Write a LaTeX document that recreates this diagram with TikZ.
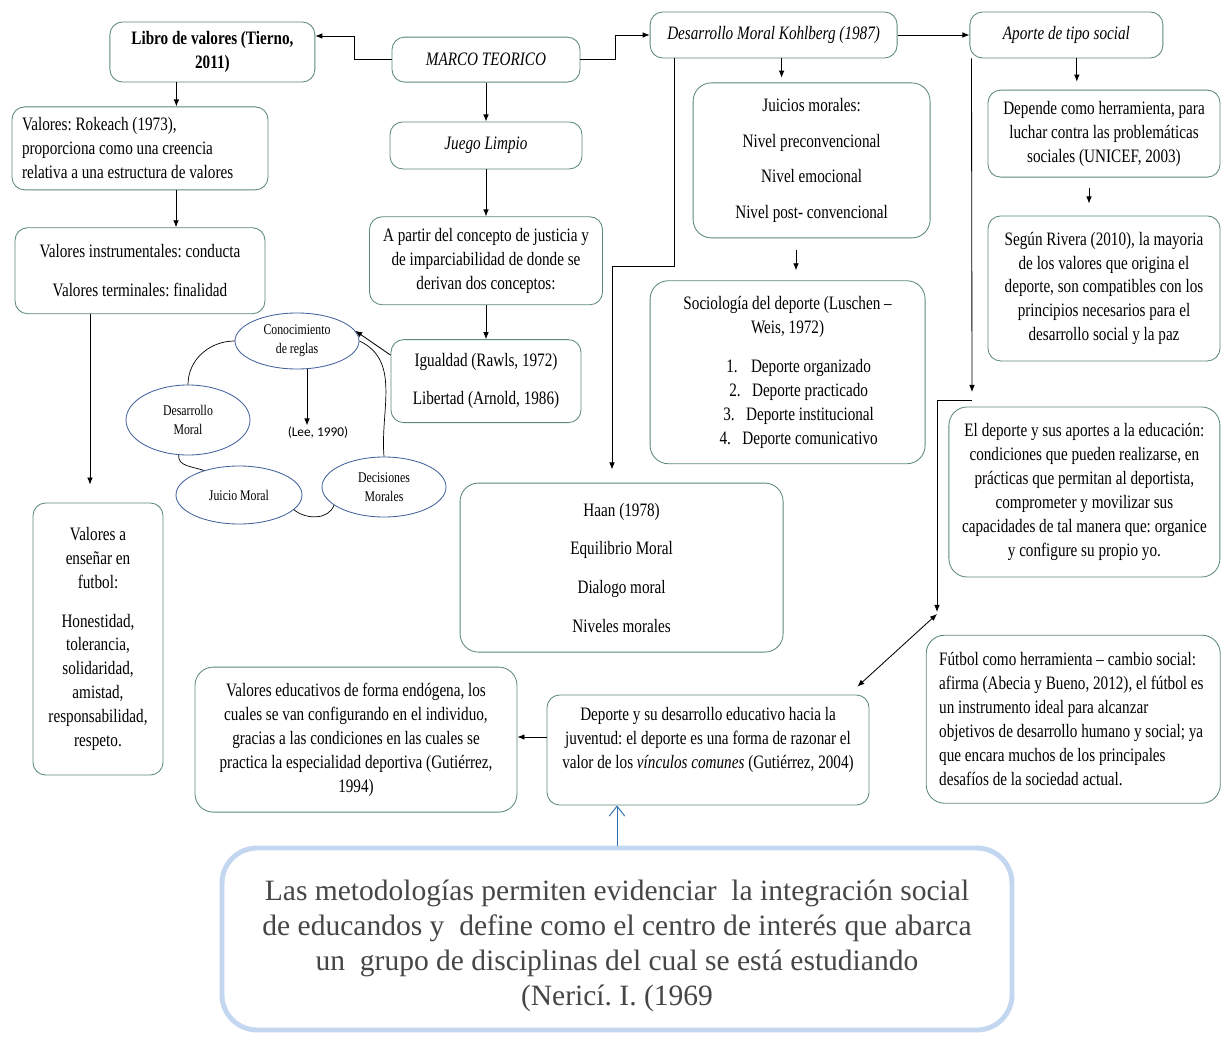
\documentclass[tikz,border=0pt]{standalone}
\usepackage{fontspec}
\setmainfont{Liberation Serif}[FakeStretch=0.8]
\newfontfamily\metfont{Liberation Serif}
\newfontfamily\leefont{Carlito}
\usepackage{tikz}
\usetikzlibrary{
  shapes.geometric,
  arrows.meta,
  positioning,
  calc
}
\usepackage{xcolor}
\definecolor{boxline}{RGB}{92,138,118}
\definecolor{ellline}{RGB}{68,98,158}
\definecolor{metline}{RGB}{196,215,240}
\definecolor{mettext}{RGB}{70,70,70}
\definecolor{bluearrow}{RGB}{52,112,180}
\newcommand{\boxfont}{\fontsize{13.5}{17}\selectfont}
\frenchspacing

\begin{document}
\begin{tikzpicture}[
    font=\boxfont,
    box/.style={rectangle, rounded corners=9pt, draw=boxline, line width=0.6pt,
                fill=white, align=center, inner sep=2pt},
    bigbox/.style={box, rounded corners=13pt},
    oval/.style={ellipse, draw=ellline, line width=0.6pt, align=center, inner sep=0pt,
                 font=\fontsize{10.5}{13.5}\selectfont},
    arr/.style={-{Latex[length=5pt,width=4pt]}, line width=0.6pt},
    dblarr/.style={{Latex[length=5pt,width=4pt]}-{Latex[length=5pt,width=4pt]}, line width=0.6pt},
    uparr/.style={-{Straight Barb[length=7pt,width=11pt]}, draw=bluearrow, line width=0.7pt},
    link/.style={line width=0.5pt},
  ]
    \useasboundingbox (0,0) rectangle (30.55,-25.9);
    \fill[white] (0,0) rectangle (30.55,-25.9);

    %% ── Top row ──────────────────────────────────────────────
    \node[box, minimum width=5.125cm, minimum height=1.5cm, font=\boxfont\bfseries]
          (libro) at (5.31,-1.30) {Libro de valores (Tierno,\\ 2011)};
    \node[box, minimum width=4.7cm, minimum height=1.125cm, font=\boxfont\itshape]
          (marco) at (12.15,-1.49) {MARCO TEORICO};
    \node[box, minimum width=6.175cm, minimum height=1.15cm, font=\boxfont\itshape]
          (kohl) at (19.34,-0.875) {Desarrollo Moral Kohlberg (1987)};
    \node[box, minimum width=4.825cm, minimum height=1.15cm, font=\boxfont\itshape]
          (aporte) at (26.66,-0.875) {Aporte de tipo social};

    %% ── Left column: valores ─────────────────────────────────
    \node[box, minimum width=6.4cm, minimum height=2.075cm, text width=5.9cm,
          align=flush left, inner xsep=0.25cm] (rok) at (3.5,-3.71)
          {Valores: Rokeach (1973),\\ proporciona como una creencia\\ relativa a una estructura de valores};
    \node[box, minimum width=6.25cm, minimum height=2.15cm] (inst) [below=0.925cm of rok]
          {Valores instrumentales: conducta\\[10.5pt] Valores terminales: finalidad};
    \node[box, minimum width=3.25cm, minimum height=6.8cm] (ense) at (2.45,-15.975)
          {Valores a\\ enseñar en\\ futbol:\\[10.5pt] Honestidad,\\ tolerancia,\\ solidaridad,\\
           amistad,\\ responsabilidad,\\ respeto.};

    %% ── Middle column: juego limpio ──────────────────────────
    \node[box, minimum width=4.8cm, minimum height=1.175cm, font=\boxfont\itshape]
          (juego) [below=0.975cm of marco] {Juego Limpio};
    \node[box, minimum width=5.825cm, minimum height=2.2cm] (partir) [below=1.175cm of juego]
          {A partir del concepto de justicia y\\ de imparciabilidad de donde se\\ derivan dos conceptos:};
    \node[box, minimum width=4.75cm, minimum height=2.075cm] (igual) [below=0.85cm of partir]
          {Igualdad (Rawls, 1972)\\[10pt] Libertad (Arnold, 1986)};

    %% ── Ovals ────────────────────────────────────────────────
    \node[oval, minimum width=3.1cm, minimum height=1.4cm] (conoc) at (7.425,-8.525)
          {Conocimiento\\ de reglas};
    \node[oval, minimum width=3.1cm, minimum height=1.75cm] (desm) at (4.7,-10.5)
          {Desarrollo\\ Moral};
    \node[oval, minimum width=3.15cm, minimum height=1.45cm] (juicio) at (5.975,-12.375)
          {Juicio Moral};
    \node[oval, minimum width=3.1cm, minimum height=1.5cm] (decis) at (9.6,-12.175)
          {Decisiones\\ Morales};
    \node[font=\leefont\fontsize{9.5}{11}\selectfont, inner sep=1pt] (lee) at (7.95,-10.825)
          {(Lee, 1990)};

    %% ── Kohlberg column ──────────────────────────────────────
    \node[bigbox, minimum width=5.925cm, minimum height=3.875cm] (juic) at (20.29,-4.01)
          {Juicios morales:\\[8.5pt] Nivel preconvencional\\[8.5pt] Nivel emocional\\[8.5pt]
           Nivel post- convencional};
    \node[bigbox, minimum width=6.875cm, minimum height=4.575cm] (socio)
          [below=1.05cm of juic, xshift=-0.6cm]
          {Sociología del deporte (Luschen --\\ Weis, 1972)\\[11pt]
           \hspace*{0.55cm}1.\hspace{0.7em}Deporte organizado\\
           \hspace*{0.55cm}2.\hspace{0.6em}Deporte practicado\\
           \hspace*{0.55cm}3.\hspace{0.6em}Deporte institucional\\
           \hspace*{0.55cm}4.\hspace{0.6em}Deporte comunicativo};
    \node[bigbox, minimum width=8.075cm, minimum height=4.225cm] (haan) at (15.54,-14.19)
          {Haan (1978)\\[10.5pt] Equilibrio Moral\\[10.5pt] Dialogo moral\\[10.5pt] Niveles morales};

    %% ── Right column: aporte social ──────────────────────────
    \node[box, minimum width=5.8cm, minimum height=2.175cm] (dep) at (27.6,-3.34)
          {Depende como herramienta, para\\ luchar contra las problemáticas\\ sociales (UNICEF, 2003)};
    \node[box, minimum width=5.8cm, minimum height=3.625cm] (riv) [below=0.95cm of dep]
          {Según Rivera (2010), la mayoria\\ de los valores que origina el\\
           deporte, son compatibles con los\\ principios necesarios para el\\ desarrollo social y la paz};
    \node[bigbox, minimum width=6.775cm, minimum height=4.25cm] (dedu) at (27.11,-12.3)
          {El deporte y sus aportes a la educación:\\ condiciones que pueden realizarse, en\\
           prácticas que permitan al deportista,\\ comprometer y movilizar sus\\
           capacidades de tal manera que: organice\\ y configure su propio yo.};
    \node[bigbox, minimum width=7.35cm, minimum height=4.2cm, text width=6.7cm,
          align=flush left, inner xsep=0.325cm] (futb) at (26.83,-17.98)
          {Fútbol como herramienta -- cambio social:\\ afirma (Abecia y Bueno, 2012), el fútbol es\\
           un instrumento ideal para alcanzar\\ objetivos de desarrollo humano y social; ya\\
           que encara muchos de los principales\\ desafíos de la sociedad actual.};

    %% ── Bottom row ───────────────────────────────────────────
    \node[box, minimum width=8.05cm, minimum height=2.75cm] (devj) at (17.7,-18.75)
          {Deporte y su desarrollo educativo hacia la\\ juventud: el deporte es una forma de razonar el\\
           valor de los \textit{vínculos comunes} (Gutiérrez, 2004)\rule[-17pt]{0pt}{17pt}};
    \node[bigbox, minimum width=8.05cm, minimum height=3.625cm] (valedu) at (8.9,-18.49)
          {Valores educativos de forma endógena, los\\ cuales se van configurando en el individuo,\\
           gracias a las condiciones en las cuales se\\ practica la especialidad deportiva (Gutiérrez,\\ 1994)};
    \node[box, draw=metline, line width=3.5pt, rounded corners=25pt, text=mettext,
          minimum width=19.75cm, minimum height=4.55cm,
          font=\metfont\fontsize{21}{24.9}\selectfont] (metod) at (15.425,-23.475)
          {\rule{0pt}{25pt}Las metodologías permiten evidenciar\ \ la integración social\\
           de educandos y\ \ define como el centro de interés que abarca\\
           un\ \ grupo de disciplinas del cual se está estudiando\\ (Nericí. I. (1969};

    \coordinate (adrop) at (24.3,-10);
    \coordinate (aleft) at (23.425,-10);
    \coordinate (afoot) at (23.425,-15.3);

    %% ── Arrows: top ──────────────────────────────────────────
    \draw[arr] (marco.west) -- ++(-0.925,0) |- ([yshift=0.4cm]libro.east);
    \draw[arr] (marco.east) -- ++(0.875,0) |- (kohl.west);
    \draw[arr] (kohl.east) -- (aporte.west);

    %% ── Left column ──────────────────────────────────────────
    \draw[arr] ([xshift=-0.9cm]libro.south) -- ([xshift=-0.9cm]libro.south |- rok.north);
    \draw[arr] ([xshift=0.9cm]rok.south) -- ([xshift=0.9cm]rok.south |- inst.north);
    \draw[arr] ([xshift=-1.25cm]inst.south) -- ([xshift=-1.25cm, yshift=0.45cm]inst.south |- ense.north);

    %% ── Middle column ────────────────────────────────────────
    \draw[arr] (marco.south) -- (juego.north);
    \draw[arr] (juego.south) -- (partir.north);
    \draw[arr] (partir.south) -- (igual.north);
    \draw[arr] ([yshift=0.65cm]igual.west) -- (conoc.10);
    \draw[arr] ([xshift=0.25cm]conoc.south) -- ([xshift=0.25cm]conoc.south |- lee.north);
    \draw[link] (conoc.west) to[out=180, in=90] (desm.north);
    \draw[link] (desm.255) to[out=-95, in=160] (juicio.145);
    \draw[link] (juicio.-15) to[out=-40, in=-110] (decis.200);
    \draw[link] (decis.north) to[out=95, in=-25] (conoc.east);

    %% ── Kohlberg column ──────────────────────────────────────
    \draw[arr] ([xshift=0.2cm]kohl.south) -- ([xshift=0.2cm, yshift=0.12cm]kohl.south |- juic.north);
    \draw[arr, shorten <=0.3cm] ([xshift=-0.39cm]juic.south) -- ([xshift=-0.39cm, yshift=0.25cm]juic.south |- socio.north);
    \draw[arr] ([xshift=0.625cm]kohl.south west) -- ++(0,-5.2) -| ([xshift=-0.24cm, yshift=0.33cm]haan.north);

    %% ── Right column ─────────────────────────────────────────
    \draw[arr] ([xshift=0.26cm]aporte.south) -- ([xshift=0.26cm, yshift=0.2cm]aporte.south |- dep.north);
    \draw[arr, shorten <=0.25cm] ([xshift=-0.375cm]dep.south) -- ([xshift=-0.375cm, yshift=0.3cm]dep.south |- riv.north);
    \draw[arr] ([xshift=0.05cm]aporte.south west) -- ([yshift=0.2cm]adrop);
    \draw[arr] (adrop) -- (aleft) -- (afoot);
    \draw[dblarr] ([yshift=-0.05cm]afoot) -- ([xshift=-0.3cm, yshift=0.2cm]devj.north east);

    %% ── Bottom row ───────────────────────────────────────────
    \draw[arr] ([yshift=0.325cm]devj.west) -- ([yshift=0.325cm]devj.west -| valedu.east);
    \draw[uparr] (metod.north) -- (metod.north |- devj.south);

  \end{tikzpicture}
\end{document}
